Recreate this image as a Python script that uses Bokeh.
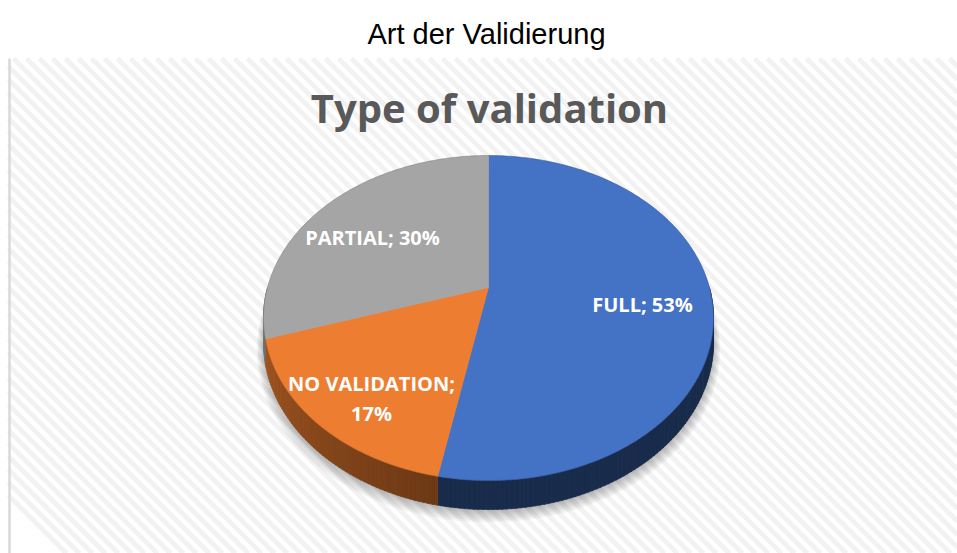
import numpy as np
from bokeh.plotting import figure
from bokeh.models import Range1d
from bokeh.core.properties import value
from bokeh.embed import file_html
from bokeh.resources import INLINE

# ---------------- data ----------------
outer_title = "Art der Validierung"
chart_title = "Type of validation"
categories = ["FULL", "NO VALIDATION", "PARTIAL"]
shares = [53, 17, 30]
colors = ["#4472C4", "#ED7D31", "#A5A5A5"]

# ---------------- layout / style ----------------
W, H = 957, 553
BOX_L, BOX_T = 8, 58
CX, CY = 488.0, 287.0       # projected pie centre
RA, RB = 221.0, 156.8       # horizontal / depth radius
K = 0.188                   # perspective strength
DEPTH = 23.5                # side thickness
label_pos = [(642, 304), (371, 383), (372, 237)]   # baseline positions
label_second_dy = 30
STRIPE_PERIOD = 13


def proj(phi_deg, depth=0.0):
    phi = np.radians(phi_deg)
    u = np.sin(phi)
    v = -np.cos(phi)
    w = 1 - K * v
    return CX + RA * u / w, CY + (RB * v + depth) / w


def shade(hex_color, f):
    h = hex_color.lstrip("#")
    r, g, b = (int(h[i:i + 2], 16) for i in (0, 2, 4))
    return "#%02x%02x%02x" % (int(r * f), int(g * f), int(b * f))


p = figure(width=W, height=H, x_range=Range1d(0, W), y_range=Range1d(H, 0),
           output_backend="svg", toolbar_location=None, min_border=0,
           background_fill_color="white", border_fill_color="white")
p.axis.visible = False
p.grid.visible = False
p.outline_line_color = None

# chart area background with diagonal "\" stripes
sx, sy = [], []
for c in np.arange(BOX_L - (H - BOX_T), W, STRIPE_PERIOD):
    y0 = max(BOX_T, BOX_L - c)
    y1 = min(H, W - c)
    if y1 <= y0:
        continue
    sx.append([y0 + c, y1 + c])
    sy.append([y0, y1])
p.multi_line(sx, sy, line_color="#f2f2f2", line_width=5)
p.segment(x0=[9], y0=[BOX_T], x1=[9], y1=[H], line_color="#d9d9d9", line_width=2.5)

# titles
p.text(x=[486], y=[33], text=[outer_title], text_font=value("Liberation Sans"),
       text_font_size="29px", text_color="#000000", text_align="center",
       text_baseline="alphabetic")
p.text(x=[489], y=[107], text=[chart_title], text_font=value("Open Sans"),
       text_font_style="bold", text_font_size="40px", text_color="#595959",
       text_align="center", text_baseline="alphabetic")

# slice angles (clockwise from 12 o'clock)
total = float(sum(shares))
bounds = np.concatenate([[0], np.cumsum(shares) / total * 360.0])

# soft shadow
full = np.linspace(0, 360, 361)
bx, by = proj(full, DEPTH)
mx, my = bx.mean(), by.mean()
for i in range(7):
    s = 1.0 + 0.005 * i
    p.patch(mx + (bx - mx) * s, my + (by - my) * s + 2 + i * 0.9,
            fill_color="black", fill_alpha=0.04, line_color=None)

# side walls
xs, ys, cs = [], [], []
for i, col in enumerate(colors):
    a0, a1 = max(bounds[i], 90.0), min(bounds[i + 1], 270.0)
    if a1 <= a0:
        continue
    for s0 in np.arange(a0, a1, 1.0):
        s1 = min(s0 + 1.2, a1)
        ang = np.array([s0, s1])
        tx, ty = proj(ang)
        dx, dy = proj(ang, DEPTH)
        xs.append(list(tx) + list(dx[::-1]))
        ys.append(list(ty) + list(dy[::-1]))
        mid = (s0 + s1) / 2
        if i == 0:
            f = 0.39
        else:
            f = float(np.clip(0.46 + (mid - 191) * 0.0036, 0.39, 0.8))
        cs.append(shade(col, f))
p.patches(xs, ys, fill_color=cs, line_color=cs, line_width=0.6)

# top faces
for i, col in enumerate(colors):
    ang = np.linspace(bounds[i], bounds[i + 1], max(int((bounds[i + 1] - bounds[i]) * 2), 2))
    ax, ay = proj(ang)
    p.patch([CX] + list(ax), [CY] + list(ay), fill_color=col, line_color=col,
            line_width=0.5)

# rim outline
rx, ry = proj(full)
p.line(rx, ry, line_color="#000000", line_alpha=0.12, line_width=1)

# labels
for i, cat in enumerate(categories):
    lx, ly = label_pos[i]
    if cat == "NO VALIDATION":
        lines = [f"{cat};", f"{shares[i]}%"]
    else:
        lines = [f"{cat}; {shares[i]}%"]
    for j, t in enumerate(lines):
        p.text(x=[lx], y=[ly + j * label_second_dy], text=[t],
               text_font=value("Open Sans"), text_font_style="bold",
               text_font_size="20px", text_color="white", text_align="center",
               text_baseline="alphabetic")

open("out.html", "w").write(file_html(p, INLINE))
